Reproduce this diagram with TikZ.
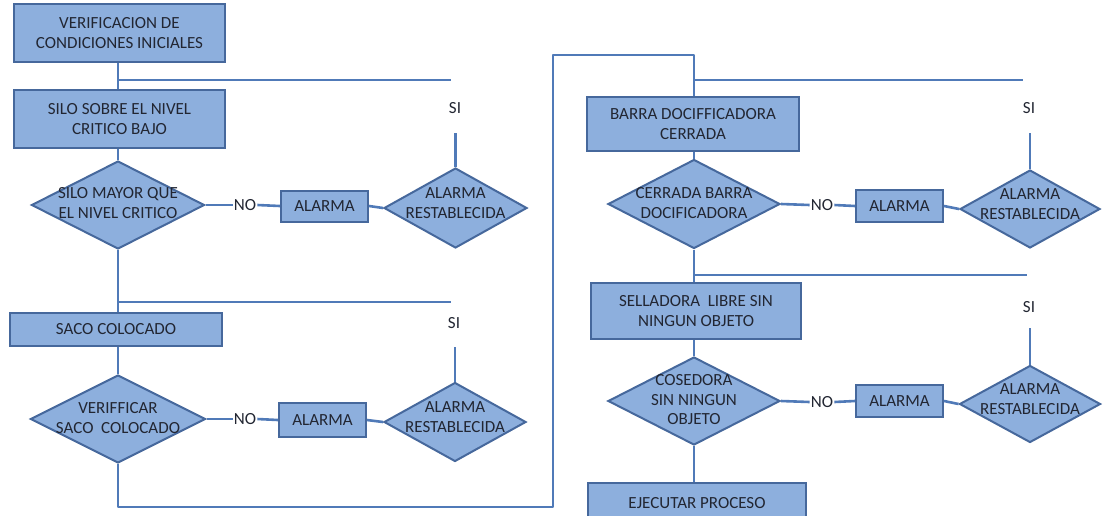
\documentclass[tikz,border=0pt]{standalone}
\usepackage{fontspec}
\setmainfont{Carlito}
\usetikzlibrary{shapes.geometric}
\definecolor{boxfill}{RGB}{141,175,221}
\definecolor{boxedge}{RGB}{70,104,156}
\definecolor{wire}{RGB}{80,122,184}
\definecolor{ink}{RGB}{34,38,50}
\begin{document}
\begin{tikzpicture}[x=1pt,y=-1pt,
  every node/.style={font=\fontsize{17}{19.5}\selectfont, text=ink},
  procbox/.style={draw=boxedge, fill=boxfill, line width=2pt, rectangle,
                  inner sep=0pt, align=center},
  decbox/.style={draw=boxedge, fill=boxfill, line width=2pt, diamond,
                 inner sep=0pt},
  dectext/.style={align=center, inner sep=0pt},
  tag/.style={inner sep=1pt},
  wireline/.style={draw=wire, line width=2.6pt}]
\fill[white] (0,0) rectangle (1105,515);
\clip (0,0) rectangle (1105,515);

% ---------------- left column ----------------
\node[procbox, minimum width=211, minimum height=58] (b1) at (119.5,33)
  {VERIFICACION DE\\CONDICIONES INICIALES};
\node[procbox, minimum width=211, minimum height=58] (b2) at (119.5,119)
  {SILO SOBRE EL NIVEL\\CRITICO BAJO};
\node[decbox, minimum width=173, minimum height=88] (d1) at (118,205) {};
\node[dectext] (d1t) at (118,203) {SILO MAYOR QUE\\EL NIVEL CRITICO};
\node[tag] (n1) at (245,205) {NO};
\node[procbox, minimum width=87, minimum height=31] (a1) at (324.5,206) {ALARMA};
\node[decbox, minimum width=143, minimum height=80] (r1) at (455.5,208) {};
\node[dectext] (r1t) at (455.5,203) {ALARMA\\RESTABLECIDA};
\node[tag] (si1) at (455,108) {SI};
\coordinate (s1) at (455.5,133);
\coordinate (h1a) at (118,80);
\coordinate (h1b) at (451,80);

\node[procbox, minimum width=212, minimum height=33] (b3) at (116,329.5)
  {SACO COLOCADO};
\node[decbox, minimum width=175, minimum height=88] (d2) at (118,419) {};
\node[dectext] (d2t) at (118,418) {VERIFFICAR\\SACO\ \ COLOCADO};
\node[tag] (n2) at (245,419) {NO};
\node[procbox, minimum width=87, minimum height=34] (a2) at (322.5,420) {ALARMA};
\node[decbox, minimum width=142, minimum height=79] (r2) at (455,422) {};
\node[dectext] (r2t) at (455,417) {ALARMA\\RESTABLECIDA};
\node[tag] (si2) at (454,323) {SI};
\coordinate (s2) at (455,347);
\coordinate (h2a) at (118,302);
\coordinate (h2b) at (451,302);

% ---------------- right column ----------------
\node[procbox, minimum width=212, minimum height=54] (b4) at (693,124)
  {BARRA DOCIFFICADORA\\CERRADA};
\node[decbox, minimum width=172, minimum height=89] (d3) at (694,204) {};
\node[dectext] (d3t) at (694,203) {CERRADA BARRA\\DOCIFICADORA};
\node[tag] (n3) at (822,205) {NO};
\node[procbox, minimum width=87, minimum height=32] (a3) at (899.5,206) {ALARMA};
\node[decbox, minimum width=140, minimum height=78] (r3) at (1030,209) {};
\node[dectext] (r3t) at (1030,204) {ALARMA\\RESTABLECIDA};
\node[tag] (si3) at (1029,108) {SI};
\coordinate (s3) at (1030,133);
\coordinate (h3a) at (694,80);
\coordinate (h3b) at (1023,80);

\node[procbox, minimum width=210, minimum height=56] (b5) at (696,311)
  {SELLADORA\ \ LIBRE SIN\\NINGUN OBJETO};
\node[decbox, minimum width=172, minimum height=88] (d4) at (694,401) {};
\node[dectext] (d4t) at (694,400) {COSEDORA\\SIN NINGUN\\OBJETO};
\node[tag] (n4) at (822,402) {NO};
\node[procbox, minimum width=87, minimum height=32] (a4) at (899.5,401) {ALARMA};
\node[decbox, minimum width=141, minimum height=77] (r4) at (1030,404) {};
\node[dectext] (r4t) at (1030,399) {ALARMA\\RESTABLECIDA};
\node[tag] (si4) at (1029,307) {SI};
\coordinate (s4) at (1030,328);
\coordinate (h4a) at (694,275);
\coordinate (h4b) at (1027,275);

\node[procbox, minimum width=218, minimum height=40] (b6) at (697,503)
  {EJECUTAR PROCESO};

% ---------------- connectors ----------------
\begin{scope}[wireline]
  % left trunk
  \draw (b1.south -| h1a) -- (b2.north -| h1a);
  \draw (h1a) -- (h1b);
  \draw (b2.south -| d1) -- (d1.north);
  \draw (d1.south) -- (b3.north -| d1);
  \draw (h2a) -- (h2b);
  \draw (b3.south -| d2) -- (d2.north);
  % NO branches
  \draw (d1.east) -- (n1.west);  \draw (n1.east) -- (a1.west);
  \draw (a1.east) -- (r1.west);  \draw (s1) -- (r1.north);
  \draw (d2.east) -- (n2.west);  \draw (n2.east) -- (a2.west);
  \draw (a2.east) -- (r2.west);  \draw (s2) -- (r2.north);
  % link from left column to right column
  \coordinate (c1) at (118,507);
  \coordinate (c2) at (553,507);
  \coordinate (c3) at (553,55);
  \coordinate (c4) at (694,55);
  \draw[line join=round] (d2.south) -- (c1) -- (c2) -- (c3) -- (c4) -- (b4.north -| c4);
  % right trunk
  \draw (h3a) -- (h3b);
  \draw (b4.south -| d3) -- (d3.north);
  \draw (d3.south) -- (b5.north -| d3);
  \draw (h4a) -- (h4b);
  \draw (b5.south -| d4) -- (d4.north);
  \draw (d4.south) -- (b6.north -| d4);
  \draw (d3.east) -- (n3.west);  \draw (n3.east) -- (a3.west);
  \draw (a3.east) -- (r3.west);  \draw (s3) -- (r3.north);
  \draw (d4.east) -- (n4.west);  \draw (n4.east) -- (a4.west);
  \draw (a4.east) -- (r4.west);  \draw (s4) -- (r4.north);
\end{scope}
\end{tikzpicture}
\end{document}
